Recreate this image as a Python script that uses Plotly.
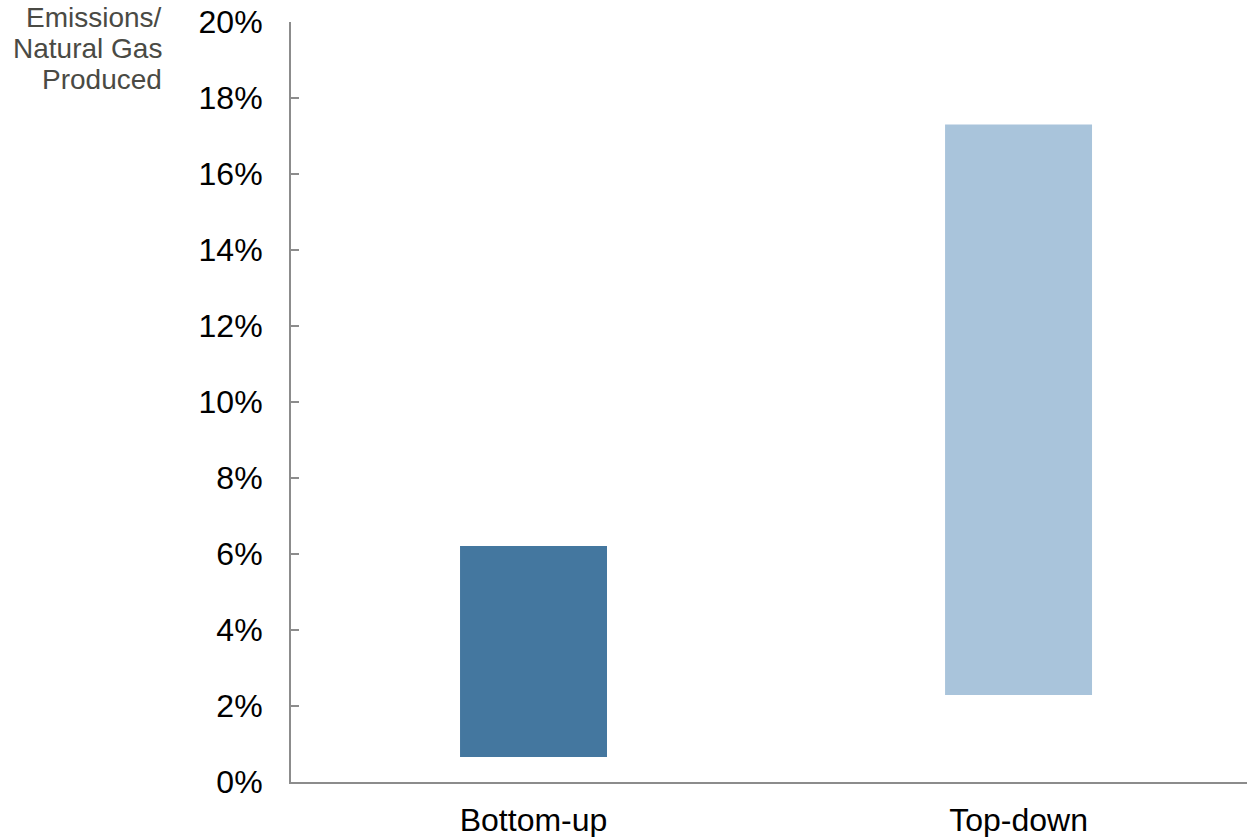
import plotly.graph_objects as go

# Emissions as a share of natural gas produced: low/high range per method
categories = ["Bottom-up", "Top-down"]
range_low = [0.66, 2.29]
range_high = [6.21, 17.3]
bar_colors = ["#44779f", "#a9c4db"]

tick_values = [0, 2, 4, 6, 8, 10, 12, 14, 16, 18, 20]
tick_labels = [f"{v}%" for v in tick_values]

title_lines = ["Emissions/", "Natural Gas", "Produced"]

fig = go.Figure()
fig.add_trace(go.Bar(
    x=categories,
    base=range_low,
    y=[h - l for h, l in zip(range_high, range_low)],
    marker=dict(color=bar_colors, line=dict(width=0)),
    width=0.303,
    hoverinfo="skip",
))

FONT = "Liberation Sans, Arial, sans-serif"
axis_font = dict(family=FONT, size=32, color="#000000")

# axis title lines, stacked right-aligned above the tick labels
title_annotations = []
for i, line in enumerate(title_lines):
    title_annotations.append(dict(
        text=line,
        xref="paper", yref="paper",
        x=-0.1325, y=1.0053 - i * 0.0408,
        xanchor="right", yanchor="middle",
        align="right",
        showarrow=False,
        font=dict(family=FONT, size=28, color="#4a4a44"),
    ))

fig.update_layout(
    width=1247,
    height=837,
    margin=dict(l=291, r=0, t=22, b=55),
    paper_bgcolor="white",
    plot_bgcolor="white",
    showlegend=False,
    xaxis=dict(
        range=[-0.5, 1.471],
        showline=True,
        linecolor="#8c8c8c",
        linewidth=2,
        ticks="",
        showgrid=False,
        zeroline=False,
        tickfont=axis_font,
        ticklabelstandoff=9,
    ),
    yaxis=dict(
        range=[0, 20],
        tickvals=tick_values,
        ticktext=tick_labels,
        showline=True,
        linecolor="#8c8c8c",
        linewidth=2,
        ticks="inside",
        ticklen=8,
        tickwidth=1.5,
        tickcolor="#8c8c8c",
        showgrid=False,
        zeroline=False,
        tickfont=axis_font,
        ticklabelstandoff=20,
    ),
    annotations=title_annotations,
)

fig.write_html("out.html")
